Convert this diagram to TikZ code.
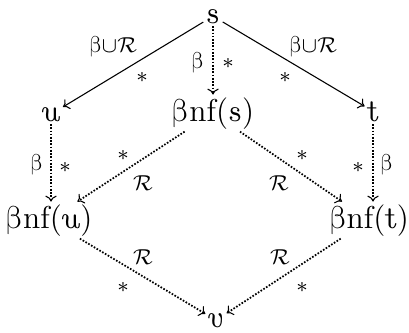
\documentclass[tikz,border=0pt]{standalone}
\usepackage{fontspec}
\usetikzlibrary{arrows.meta}
\newfontfamily\lmmathfont{latinmodern-math.otf}
\newcommand\unslx[1]{{\fontshape{ui}\selectfont #1}}
\newcommand\ubeta{{\lmmathfont β}}
\begin{document}
\begin{tikzpicture}[x=0.37pt,y=-0.37pt,
  obj/.style={inner sep=0.8pt,font=\fontsize{11.7}{13}\selectfont},
  lbl/.style={inner sep=0pt,font=\fontsize{8.5}{10}\selectfont},
  solidarr/.style={-{Computer Modern Rightarrow[length=2.2pt,width=4.2pt]},line width=0.4pt},
  dotarr/.style={-{Computer Modern Rightarrow[length=2.2pt,width=4.2pt,line width=0.4pt]},line width=0.65pt,dash pattern=on 0.6pt off 0.6pt}]
\useasboundingbox (0,0) rectangle (409,332);
\node[obj,anchor=base] (s) at (213,23) {\unslx{s}};
\node[obj,anchor=base] (u) at (51,121) {\unslx{u}};
\node[obj,anchor=base] (bs) at (213,121) {\ubeta nf(\unslx{s})};
\node[obj,anchor=base] (t) at (373,121) {\unslx{t}};
\node[obj,anchor=base] (bu) at (49,228) {\ubeta nf(\unslx{u})};
\node[obj,anchor=base] (bt) at (369,228) {\ubeta nf(\unslx{t})};
\node[obj,anchor=base] (v) at (216,327) {\unslx{v}};
% connectors
\draw[solidarr] (s) -- (u);
\draw[solidarr] (s) -- (t);
\draw[dotarr] (s) -- (bs);
\draw[dotarr] (u.south) -- (u.south |- bu.north);
\draw[dotarr] (t.south) -- (t.south |- bt.north);
\draw[dotarr] (bs) -- (bu);
\draw[dotarr] (bs) -- (bt);
\draw[dotarr] (bu) -- (v);
\draw[dotarr] (bt) -- (v);
% labels
\node[lbl] (l1) at (113,47) {\ubeta$\cup\mathcal{R}$};
\node[lbl] (l2) at (142,77) {$\ast$};
\node[lbl] (l3) at (198,63) {\ubeta};
\node[lbl] (l4) at (228,63) {$\ast$};
\node[lbl] (l5) at (313,47) {\ubeta$\cup\mathcal{R}$};
\node[lbl] (l6) at (285,77) {$\ast$};
\node[lbl] (l7) at (37,165) {\ubeta};
\node[lbl] (l8) at (65,167) {$\ast$};
\node[lbl] (l9) at (358,167) {$\ast$};
\node[lbl] (l10) at (387,165) {\ubeta};
\node[lbl] (l11) at (123,155) {$\ast$};
\node[lbl] (l12) at (143,183) {$\mathcal{R}$};
\node[lbl] (l13) at (302,155) {$\ast$};
\node[lbl] (l14) at (279,183) {$\mathcal{R}$};
\node[lbl] (l15) at (143,257) {$\mathcal{R}$};
\node[lbl] (l16) at (123,287) {$\ast$};
\node[lbl] (l17) at (280,257) {$\mathcal{R}$};
\node[lbl] (l18) at (302,287) {$\ast$};
\end{tikzpicture}
\end{document}
